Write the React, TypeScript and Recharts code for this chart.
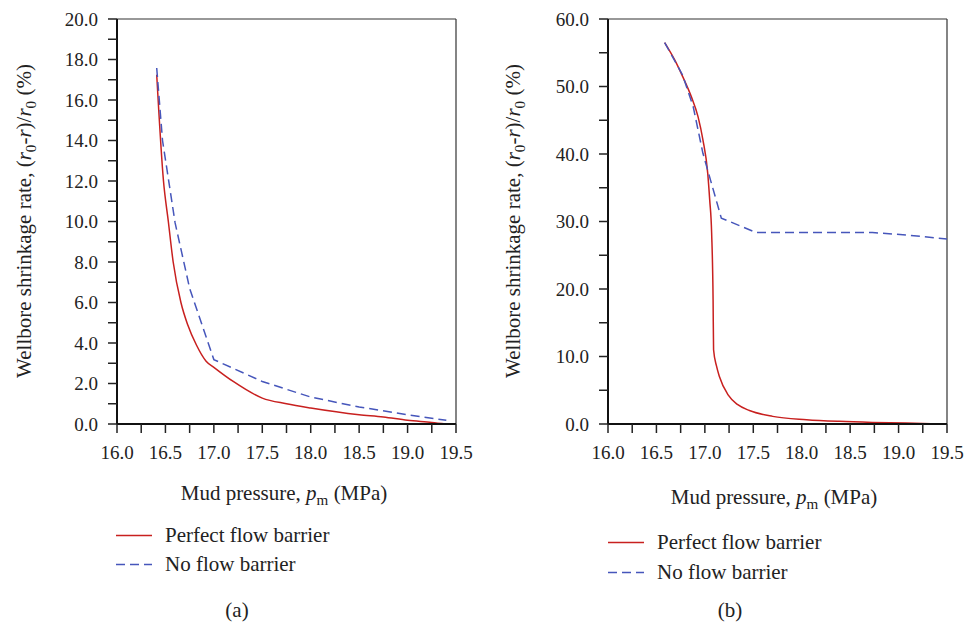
import React from "react";
import { LineChart, Line, XAxis, YAxis, ReferenceLine } from "recharts";

// (a) mud pressure (MPa) vs wellbore shrinkage rate (%)
const A_PERFECT_P = [16.41, 16.48, 16.53, 16.58, 16.66, 16.73, 16.82, 16.92, 17.0, 17.2, 17.5, 17.75, 18.0, 18.5, 18.75, 19.0, 19.25, 19.4];
const A_PERFECT_R = [17.25, 12.0, 10.0, 8.0, 6.0, 4.9, 3.9, 3.1, 2.8, 2.1, 1.28, 1.0, 0.79, 0.46, 0.35, 0.18, 0.08, 0.0];
const A_NONE_P = [16.41, 16.47, 16.6, 16.75, 17.0, 17.5, 18.0, 18.5, 19.0, 19.4];
const A_NONE_R = [17.58, 14.0, 9.93, 6.7, 3.18, 2.1, 1.33, 0.84, 0.46, 0.18];

// (b)
const B_PERFECT_P = [16.585, 16.69, 16.77, 16.86, 16.93, 16.98, 17.03, 17.05, 17.07, 17.085, 17.09, 17.12, 17.15, 17.24, 17.34, 17.46, 17.7, 18.05, 18.39, 18.73, 19.08, 19.42];
const B_PERFECT_R = [56.5, 53.9, 51.5, 48.5, 45.5, 42.1, 37.1, 33.2, 28.3, 18.4, 11.0, 8.6, 7.05, 4.3, 2.86, 2.0, 1.13, 0.64, 0.39, 0.24, 0.14, 0.0];
const B_NONE_P = [16.585, 16.77, 16.88, 16.98, 17.17, 17.53, 18.73, 19.08, 19.5];
const B_NONE_R = [56.5, 51.7, 47.0, 40.1, 30.5, 28.36, 28.36, 28.0, 27.4];

const X_TICKS = [16, 16.25, 16.5, 16.75, 17, 17.25, 17.5, 17.75, 18, 18.25, 18.5, 18.75, 19, 19.25, 19.5];
const A_Y_TICKS = [0, 1, 2, 3, 4, 5, 6, 7, 8, 9, 10, 11, 12, 13, 14, 15, 16, 17, 18, 19, 20];
const B_Y_TICKS = [0, 5, 10, 15, 20, 25, 30, 35, 40, 45, 50, 55, 60];

const SERIES_NAMES = ["Perfect flow barrier", "No flow barrier"];
const PANEL_LABELS = ["(a)", "(b)"];

const RED = "#c8201f";
const BLUE = "#4656bb";
const DASH = "9 5";
const FONT = "Liberation Serif, DejaVu Serif, serif";

const zip = (p: number[], r: number[]) => p.map((x, i) => ({ x, y: r[i] }));

const tickStyle = { fontSize: 19, fill: "#222", fontFamily: FONT };

function Panel({
  perfect,
  none,
  yMax,
  yTicks,
  labelEvery,
  width,
  margin,
}: {
  perfect: { x: number; y: number }[];
  none: { x: number; y: number }[];
  yMax: number;
  yTicks: number[];
  labelEvery: number;
  width: number;
  margin: { top: number; right: number; bottom: number; left: number };
}) {
  return (
    <LineChart width={width} height={480} margin={margin} style={{ fontFamily: FONT }}>
      <XAxis
        type="number"
        dataKey="x"
        domain={[16, 19.5]}
        ticks={X_TICKS}
        tickFormatter={(v: number) => (Math.abs(v * 2 - Math.round(v * 2)) < 1e-9 ? v.toFixed(1) : "")}
        tick={tickStyle}
        tickSize={9}
        tickMargin={13}
        height={40}
        interval={0}
        axisLine={{ stroke: "#111", strokeWidth: 2 }}
        tickLine={{ stroke: "#222", strokeWidth: 1.5 }}
        allowDataOverflow
      />
      <YAxis
        type="number"
        domain={[0, yMax]}
        ticks={yTicks}
        tickFormatter={(v: number) => (v % labelEvery === 0 ? v.toFixed(1) : "")}
        tick={tickStyle}
        tickSize={9}
        tickMargin={10}
        width={60}
        interval={0}
        axisLine={{ stroke: "#111", strokeWidth: 2 }}
        tickLine={{ stroke: "#222", strokeWidth: 1.5 }}
      />
      <ReferenceLine y={yMax} stroke="#333" strokeWidth={1.2} ifOverflow="visible" />
      <ReferenceLine x={19.5} stroke="#333" strokeWidth={1.2} ifOverflow="visible" />
      <Line
        data={perfect}
        dataKey="y"
        type="monotone"
        stroke={RED}
        strokeWidth={1.5}
        dot={false}
        isAnimationActive={false}
        name={SERIES_NAMES[0]}
      />
      <Line
        data={none}
        dataKey="y"
        type="linear"
        stroke={BLUE}
        strokeWidth={1.5}
        strokeDasharray={DASH}
        dot={false}
        isAnimationActive={false}
        name={SERIES_NAMES[1]}
      />
    </LineChart>
  );
}

const abs = (left: number, top: number): React.CSSProperties => ({
  position: "absolute",
  left,
  top,
  whiteSpace: "nowrap",
  fontFamily: FONT,
  color: "#222",
  lineHeight: 1,
});

const Sub = ({ children }: { children: React.ReactNode }) => (
  <span style={{ fontSize: "0.72em", position: "relative", top: "0.3em" }}>{children}</span>
);

function YTitle({ cx, cy }: { cx: number; cy: number }) {
  return (
    <div style={{ ...abs(cx, cy), fontSize: 21, transform: "translate(-50%, -50%) rotate(-90deg)" }}>
      Wellbore shrinkage rate, (<i>r</i>
      <Sub>0</Sub>-<i>r</i>)/<i>r</i>
      <Sub>0</Sub> (%)
    </div>
  );
}

function XTitle({ cx, cy }: { cx: number; cy: number }) {
  return (
    <div style={{ ...abs(cx, cy), fontSize: 21, transform: "translate(-50%, -50%)" }}>
      Mud pressure, <i>p</i>
      <Sub>m</Sub> (MPa)
    </div>
  );
}

function LegendRows({ x, y, gap }: { x: number; y: number; gap: number }) {
  const rows = [
    { name: SERIES_NAMES[0], color: RED, dash: undefined },
    { name: SERIES_NAMES[1], color: BLUE, dash: DASH },
  ];
  return (
    <>
      {rows.map((r, i) => (
        <div key={r.name} style={{ ...abs(x, y + i * gap), fontSize: 21, transform: "translateY(-50%)", display: "flex", alignItems: "center" }}>
          <svg width={36} height={4} style={{ marginRight: 13 }}>
            <line x1={0} y1={2} x2={36} y2={2} stroke={r.color} strokeWidth={1.5} strokeDasharray={r.dash} />
          </svg>
          <span>{r.name}</span>
        </div>
      ))}
    </>
  );
}

export default function App() {
  return (
    <div style={{ position: "absolute", left: 0, top: 0, width: 968, height: 624, background: "#fff", overflow: "hidden", fontFamily: FONT }}>
      <div style={{ position: "absolute", left: 0, top: 0 }}>
        <Panel
          perfect={zip(A_PERFECT_P, A_PERFECT_R)}
          none={zip(A_NONE_P, A_NONE_R)}
          yMax={20}
          yTicks={A_Y_TICKS}
          labelEvery={2}
          width={480}
          margin={{ top: 19, right: 24, bottom: 16, left: 57 }}
        />
      </div>
      <div style={{ position: "absolute", left: 480, top: 0 }}>
        <Panel
          perfect={zip(B_PERFECT_P, B_PERFECT_R)}
          none={zip(B_NONE_P, B_NONE_R)}
          yMax={60}
          yTicks={B_Y_TICKS}
          labelEvery={10}
          width={488}
          margin={{ top: 19, right: 21, bottom: 16, left: 68 }}
        />
      </div>
      <YTitle cx={24} cy={221} />
      <YTitle cx={513} cy={221} />
      <XTitle cx={284} cy={493} />
      <XTitle cx={774} cy={497} />
      <LegendRows x={116} y={535} gap={29} />
      <LegendRows x={608} y={542} gap={30} />
      <div style={{ ...abs(237, 610), fontSize: 21, transform: "translate(-50%, -50%)" }}>{PANEL_LABELS[0]}</div>
      <div style={{ ...abs(730, 610), fontSize: 21, transform: "translate(-50%, -50%)" }}>{PANEL_LABELS[1]}</div>
    </div>
  );
}
